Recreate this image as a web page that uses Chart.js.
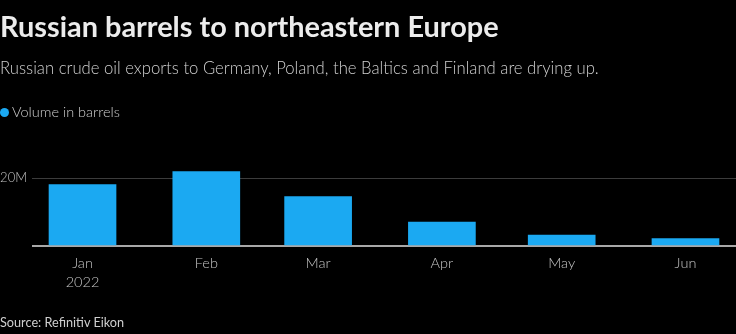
<!DOCTYPE html>
<html>
<head>
<meta charset="utf-8">
<script src="https://cdn.jsdelivr.net/npm/chart.js@4"></script>
<style>
  html, body { margin: 0; padding: 0; background: #000; }
  body { width: 736px; height: 334px; position: relative; overflow: hidden; font-family: Lato, "Noto Sans", sans-serif; }
  #title { position: absolute; left: 0; top: 9px; color: #ececec; font-weight: 700; font-size: 28.9px; line-height: 34px; white-space: nowrap; }
  #subtitle { position: absolute; left: 0; top: 56px; color: #cfcfcf; font-weight: 300; font-size: 16.7px; line-height: 24px; white-space: nowrap; }
  #legend { position: absolute; left: 0; top: 103px; color: #cfcfcf; font-weight: 300; font-size: 14.5px; line-height: 18px; white-space: nowrap; }
  #legend .dot { display: inline-block; width: 9px; height: 9px; border-radius: 50%; background: #1ba9f2; margin-right: 3px; vertical-align: 0px; }
  #source { position: absolute; left: 0; top: 314px; color: #cfcfcf; font-size: 12.7px; line-height: 17px; white-space: nowrap; }
  #wrap { position: absolute; left: 0; top: 0; width: 736px; height: 334px; }
</style>
</head>
<body>
<div id="wrap"><canvas id="chart" width="736" height="334"></canvas></div>
<div id="title">Russian barrels to northeastern Europe</div>
<div id="subtitle">Russian crude oil exports to Germany, Poland, the Baltics and Finland are drying up.</div>
<div id="legend"><span class="dot"></span>Volume in barrels</div>
<div id="source">Source: Refinitiv Eikon</div>
<script>
// Monthly Russian crude volumes (barrels), each bar placed on the first of its month
const monthDates = ['2022-01-01', '2022-02-01', '2022-03-01', '2022-04-01', '2022-05-01', '2022-06-01'];
const monthLabels = [['Jan', '2022'], 'Feb', 'Mar', 'Apr', 'May', 'Jun'];
const volumes = [18.1e6, 21.9e6, 14.5e6, 7.0e6, 3.2e6, 2.2e6];
const yTickValues = [0, 20e6];
const yTickLabels = ['', '20M'];

// Day offsets from the first month, so the x axis spaces months by their real length
const dayMs = 86400000;
const origin = Date.parse(monthDates[0]);
const dayOffsets = monthDates.map(d => Math.round((Date.parse(d) - origin) / dayMs));
const edgeDays = 12.65;

const barBlue = '#1ba9f2';

new Chart(document.getElementById('chart'), {
  type: 'bar',
  data: {
    datasets: [{
      label: 'Volume in barrels',
      data: dayOffsets.map((x, i) => ({ x: x, y: volumes[i] })),
      backgroundColor: barBlue,
      borderWidth: 0,
      barThickness: 67
    }]
  },
  options: {
    responsive: false,
    animation: false,
    events: [],
    layout: { padding: { top: 144, right: 0, bottom: 0, left: 0 } },
    plugins: { legend: { display: false }, tooltip: { enabled: false } },
    scales: {
      x: {
        type: 'linear',
        offset: false,
        min: dayOffsets[0] - edgeDays,
        max: dayOffsets[dayOffsets.length - 1] + edgeDays,
        afterBuildTicks: scale => { scale.ticks = dayOffsets.map(v => ({ value: v })); },
        afterFit: scale => { scale.height = 88; },
        grid: { display: false, drawTicks: false },
        border: { display: false },
        ticks: {
          autoSkip: false,
          maxRotation: 0,
          padding: 8,
          color: '#c4c4c4',
          font: { family: 'Lato', size: 14.5, weight: 300, lineHeight: 1.3 },
          callback: (v, i) => monthLabels[i]
        }
      },
      y: {
        min: 0,
        max: 30e6,
        afterBuildTicks: scale => { scale.ticks = yTickValues.map(v => ({ value: v })); },
        afterFit: scale => { scale.width = 32; },
        grid: {
          drawTicks: false,
          color: ctx => ctx.tick && ctx.tick.value === 0 ? '#a8a8a8' : '#3c3c3c',
          lineWidth: ctx => ctx.tick && ctx.tick.value === 0 ? 2 : 1
        },
        border: { display: false },
        ticks: {
          padding: 5,
          color: '#c4c4c4',
          font: { family: 'Lato', size: 13, weight: 300 },
          callback: (v, i) => yTickLabels[i]
        }
      }
    }
  }
});
</script>
</body>
</html>
